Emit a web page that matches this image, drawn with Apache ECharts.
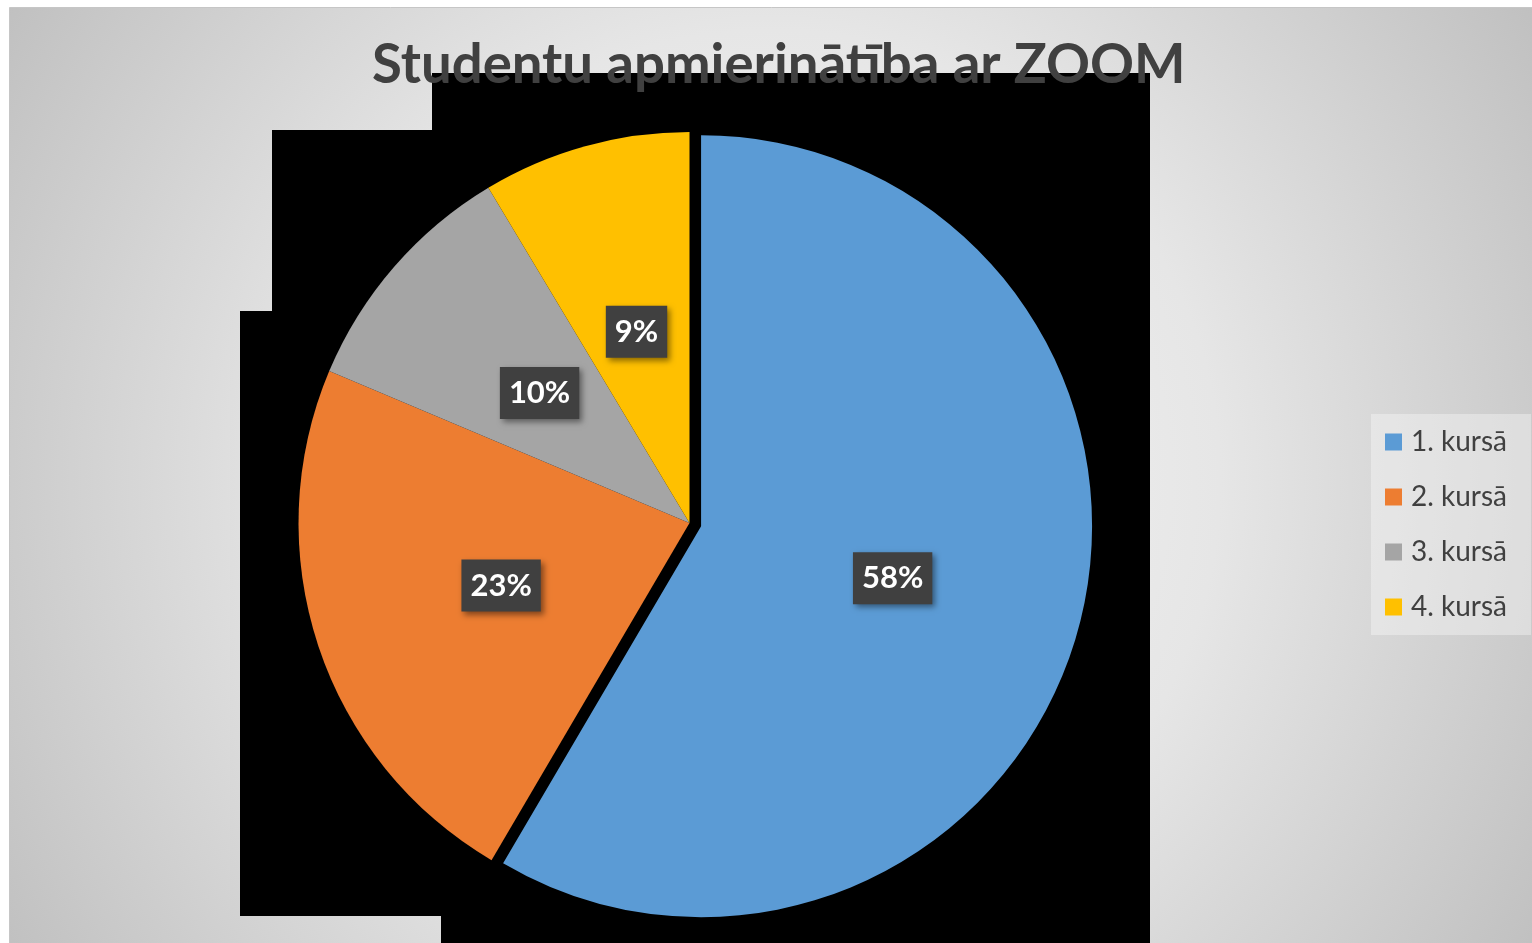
<!DOCTYPE html>
<html>
<head>
<meta charset="utf-8">
<script src="https://cdn.jsdelivr.net/npm/echarts@6/dist/echarts.min.js"></script>
<style>
html,body{margin:0;padding:0;background:#fff;}
#main{width:1532px;height:943px;}
</style>
</head>
<body>
<div id="main"></div>
<script>
const titleText = 'Studentu apmierinātība ar ZOOM';
const categories = ['1. kursā', '2. kursā', '3. kursā', '4. kursā'];
const values = [58.45, 22.9, 10.05, 8.6];
const colors = ['#5B9BD5', '#ED7D31', '#A5A5A5', '#FFC000'];

const chart = echarts.init(document.getElementById('main'));

const bgGradient = new echarts.graphic.RadialGradient(770, 480, 900, [
  { offset: 0, color: '#f8f8f8' },
  { offset: 0.5, color: '#e6e6e6' },
  { offset: 1, color: '#c0c0c0' }
], true);

const option = {
  backgroundColor: '#ffffff',
  animation: false,
  color: colors,
  graphic: [
    { type: 'rect', z: -10, silent: true,
      shape: { x: 9.5, y: 7.5, width: 1530, height: 940 },
      style: { fill: bgGradient, stroke: '#c6c6c6', lineWidth: 1 } },
    { type: 'rect', z: -5, silent: true, shape: { x: 432, y: 73, width: 718, height: 843 }, style: { fill: '#000' } },
    { type: 'rect', z: -5, silent: true, shape: { x: 441, y: 915, width: 709, height: 30 }, style: { fill: '#000' } },
    { type: 'rect', z: -5, silent: true, shape: { x: 272, y: 130, width: 162, height: 182 }, style: { fill: '#000' } },
    { type: 'rect', z: -5, silent: true, shape: { x: 240, y: 311, width: 194, height: 605 }, style: { fill: '#000' } }
  ],
  title: {
    text: titleText,
    left: 367,
    top: 33,
    padding: 5,
    textStyle: {
      fontFamily: 'Lato',
      fontWeight: 'bold',
      fontSize: 54.5,
      color: '#404040'
    }
  },
  legend: {
    orient: 'vertical',
    left: 1371,
    top: 414,
    padding: [14, 24, 14, 14],
    backgroundColor: 'rgba(255,255,255,0.35)',
    itemWidth: 17,
    itemHeight: 17,
    itemGap: 27,
    icon: 'rect',
    data: categories,
    textStyle: {
      fontFamily: 'Lato',
      fontSize: 28,
      color: '#404040',
      padding: [0, 0, 0, 4]
    }
  },
  series: [{
    type: 'pie',
    center: [689.5, 523],
    radius: 391,
    startAngle: 90,
    clockwise: true,
    selectedMode: 'single',
    selectedOffset: 12,
    avoidLabelOverlap: false,
    itemStyle: { borderWidth: 0 },
    emphasis: { disabled: true },
    select: { itemStyle: { borderWidth: 0 } },
    label: {
      show: true,
      position: 'inside',
      formatter: function (p) { return Math.round(p.percent) + '%'; },
      fontFamily: 'Lato',
      fontWeight: 'bold',
      fontSize: 31,
      lineHeight: 32,
      color: '#ffffff',
      backgroundColor: '#404040',
      padding: [10, 9],
      shadowColor: 'rgba(0,0,0,0.45)',
      shadowBlur: 6,
      shadowOffsetX: 3,
      shadowOffsetY: 3
    },
    labelLine: { show: false },
    data: categories.map(function (c, i) {
      return { name: c, value: values[i], selected: i === 0 };
    })
  }]
};
chart.setOption(option);
</script>
</body>
</html>
